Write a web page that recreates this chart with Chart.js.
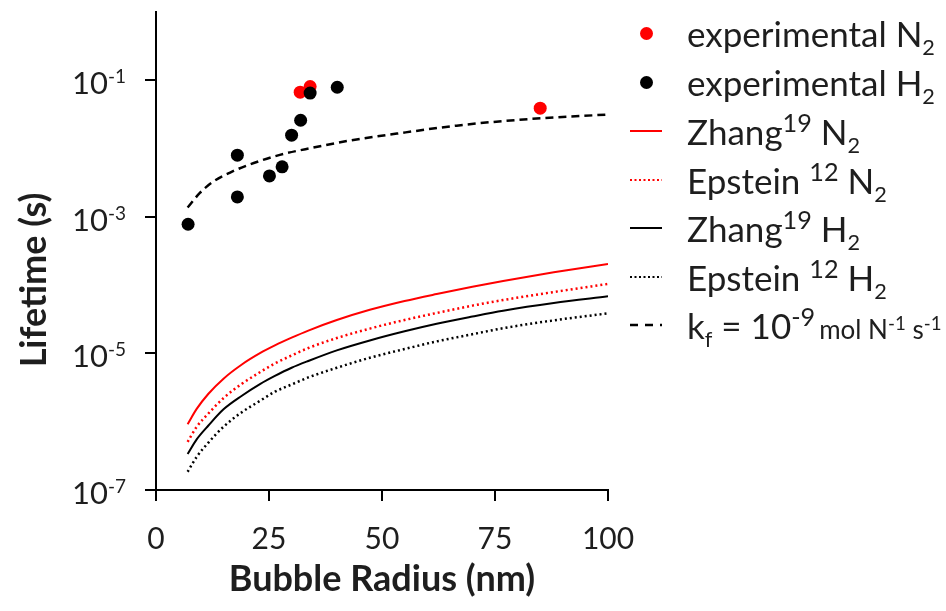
<!DOCTYPE html>
<html>
<head>
<meta charset="utf-8">
<script src="https://cdn.jsdelivr.net/npm/chart.js@4.4.0/dist/chart.umd.min.js"></script>
<style>
  html, body { margin: 0; padding: 0; background: #fff; }
  #wrap { position: relative; width: 946px; height: 611px; }
  #legend { position: absolute; left: 0; top: 0; width: 946px; height: 611px; pointer-events: none;
            font-family: Lato, sans-serif; font-size: 35px; color: #1e1e1e; }
  .row { position: absolute; left: 630px; height: 40px; display: flex; align-items: center; white-space: nowrap; }
  .sym { width: 32px; height: 40px; display: flex; align-items: center; justify-content: center; margin-right: 25px; }
  .dot { width: 13px; height: 13px; border-radius: 50%; }
  sub { font-size: 0.62em; vertical-align: -0.35em; line-height: 0; }
  sup { font-size: 0.72em; vertical-align: 0.53em; line-height: 0; }
  .small { font-size: 26px; margin-left: 4px; }
  .small sup { font-size: 0.72em; vertical-align: 0.5em; }
</style>
</head>
<body>
<div id="wrap">
  <canvas id="lifetimeChart"></canvas>
  <div id="legend">
    <div class="row" style="top:13px"><span class="sym"><span class="dot" style="background:#ff0000"></span></span><span>experimental N<sub>2</sub></span></div>
    <div class="row" style="top:62px"><span class="sym"><span class="dot" style="background:#000"></span></span><span>experimental H<sub>2</sub></span></div>
    <div class="row" style="top:111px"><span class="sym"><svg width="32" height="4"><line x1="0" y1="2" x2="32" y2="2" stroke="#ff0000" stroke-width="2"/></svg></span><span>Zhang<sup>19</sup> N<sub>2</sub></span></div>
    <div class="row" style="top:160px"><span class="sym"><svg width="32" height="4"><line x1="0" y1="2" x2="32" y2="2" stroke="#ff0000" stroke-width="2" stroke-dasharray="2 2.5"/></svg></span><span>Epstein <sup>12</sup> N<sub>2</sub></span></div>
    <div class="row" style="top:208px"><span class="sym"><svg width="32" height="4"><line x1="0" y1="2" x2="32" y2="2" stroke="#000" stroke-width="2"/></svg></span><span>Zhang<sup>19</sup> H<sub>2</sub></span></div>
    <div class="row" style="top:257px"><span class="sym"><svg width="32" height="4"><line x1="0" y1="2" x2="32" y2="2" stroke="#000" stroke-width="2" stroke-dasharray="2 2.5"/></svg></span><span>Epstein <sup>12</sup> H<sub>2</sub></span></div>
    <div class="row" style="top:305px"><span class="sym"><svg width="32" height="4"><line x1="0" y1="2" x2="32" y2="2" stroke="#000" stroke-width="2.5" stroke-dasharray="8 7"/></svg></span><span>k<sub>f</sub> = 10<sup>-9</sup><span class="small">mol N<sup>-1</sup> s<sup>-1</sup></span></span></div>
  </div>
</div>
<script>
// Experimental points (radius in nm, lifetime in s)
const expN2Radius = [31.9, 34.1, 85.0];
const expN2Lifetime = [0.067, 0.081, 0.039];
const expH2Radius = [7.1, 18.0, 18.0, 25.1, 27.9, 30.0, 32.0, 34.1, 40.1];
const expH2Lifetime = [7.8e-4, 8.0e-3, 1.96e-3, 3.97e-3, 5.4e-3, 0.0157, 0.026, 0.065, 0.079];

// Model curves
const modelRadius = [7, 9, 11.6, 15, 19, 23, 26.3, 30, 33.7, 40, 47.3, 55, 62.1, 70, 76.8, 88, 100];
const zhangN2 = [9.20e-7, 1.54e-6, 2.57e-6, 4.31e-6, 6.89e-6, 1.007e-5, 1.31e-5, 1.70e-5, 2.16e-5, 3.08e-5, 4.35e-5, 5.86e-5, 7.41e-5, 9.46e-5, 1.15e-4, 1.54e-4, 2.04e-4];
const epsteinN2 = [5.07e-7, 8.41e-7, 1.32e-6, 2.24e-6, 3.59e-6, 5.31e-6, 7.13e-6, 9.33e-6, 1.20e-5, 1.68e-5, 2.31e-5, 3.09e-5, 3.91e-5, 5.01e-5, 6.05e-5, 7.94e-5, 1.04e-4];
const zhangH2 = [3.36e-7, 5.52e-7, 8.81e-7, 1.53e-6, 2.40e-6, 3.55e-6, 4.68e-6, 6.17e-6, 7.76e-6, 1.11e-5, 1.55e-5, 2.11e-5, 2.72e-5, 3.47e-5, 4.22e-5, 5.47e-5, 6.85e-5];
const epsteinH2 = [1.85e-7, 3.05e-7, 4.95e-7, 8.51e-7, 1.38e-6, 2.02e-6, 2.75e-6, 3.51e-6, 4.45e-6, 6.17e-6, 8.63e-6, 1.16e-5, 1.50e-5, 1.91e-5, 2.34e-5, 3.05e-5, 3.87e-5];

// kf = 1e-9 curve
const kfRadius = [7, 9.7, 12.7, 16.4, 20.1, 27.4, 34.8, 42.2, 53.3, 66.5, 81.3, 100];
const kfLifetime = [1.37e-3, 2.24e-3, 3.30e-3, 4.46e-3, 5.65e-3, 8.09e-3, 1.034e-2, 1.287e-2, 1.656e-2, 2.167e-2, 2.669e-2, 3.155e-2];

// Axes
const xTicks = [0, 25, 50, 75, 100];
const yTickExponents = [-1, -3, -5, -7];
const xTitle = 'Bubble Radius (nm)';
const yTitle = 'Lifetime (s)';

const pts = (xs, ys) => xs.map((x, i) => ({ x: x, y: ys[i] }));
const textColor = '#1e1e1e';

const curve = (label, data, color, dash, order) => ({
  label: label,
  data: data,
  showLine: true,
  borderColor: color,
  borderWidth: dash.length ? 2.5 : 2,
  borderDash: dash,
  pointRadius: 0,
  cubicInterpolationMode: 'monotone',
  order: order
});

// y tick labels with superscript exponents, and the y title
const logTickPlugin = {
  id: 'logTicks',
  afterDraw(chart) {
    const ctx = chart.ctx;
    const y = chart.scales.y;
    ctx.save();
    ctx.fillStyle = textColor;
    ctx.textBaseline = 'alphabetic';
    yTickExponents.forEach(e => {
      const py = y.getPixelForValue(Math.pow(10, e));
      ctx.font = '19px Lato';
      ctx.textAlign = 'left';
      const sup = String(e);
      const supX = 126 - ctx.measureText(sup).width;
      ctx.fillText(sup, supX, py + 3);
      ctx.font = '31px Lato';
      ctx.textAlign = 'right';
      ctx.fillText('10', supX, py + 14);
    });
    ctx.translate(46, 280);
    ctx.rotate(-Math.PI / 2);
    ctx.font = 'bold 36px Lato';
    ctx.textAlign = 'center';
    ctx.fillText(yTitle, 0, 0);
    ctx.restore();
  }
};

const ctx = document.getElementById('lifetimeChart').getContext('2d');
const lifetimeChart = new Chart(ctx, {
  type: 'scatter',
  data: {
    datasets: [
      { label: 'experimental H2', data: pts(expH2Radius, expH2Lifetime), backgroundColor: '#000', borderColor: '#000', pointRadius: 6.5, borderWidth: 0, order: 0 },
      { label: 'experimental N2', data: pts(expN2Radius, expN2Lifetime), backgroundColor: '#ff0000', borderColor: '#ff0000', pointRadius: 6.5, borderWidth: 0, order: 1 },
      curve('kf', pts(kfRadius, kfLifetime), '#000', [8, 5], 2),
      curve('Zhang N2', pts(modelRadius, zhangN2), '#ff0000', [], 3),
      curve('Epstein N2', pts(modelRadius, epsteinN2), '#ff0000', [2, 3], 3),
      curve('Zhang H2', pts(modelRadius, zhangH2), '#000', [], 3),
      curve('Epstein H2', pts(modelRadius, epsteinH2), '#000', [2, 3], 3)
    ]
  },
  options: {
    responsive: true,
    maintainAspectRatio: false,
    animation: false,
    layout: { padding: { top: 12, right: 338, left: 0, bottom: 0 } },
    plugins: { legend: { display: false }, tooltip: { enabled: false } },
    scales: {
      x: {
        type: 'linear',
        min: 0,
        max: 100,
        afterBuildTicks: s => { s.ticks = xTicks.map(v => ({ value: v })); },
        afterFit: s => { s.height = 121; },
        ticks: { color: textColor, font: { family: 'Lato', size: 30 }, padding: 20, maxRotation: 0 },
        grid: { drawOnChartArea: false, color: '#000', lineWidth: 2, tickLength: 11 },
        border: { color: '#000', width: 2 },
        title: { display: true, text: xTitle, color: textColor, font: { family: 'Lato', size: 36, weight: 'bold' }, padding: { top: 0, bottom: 10 } }
      },
      y: {
        type: 'logarithmic',
        min: 1e-7,
        max: 1,
        afterBuildTicks: s => { s.ticks = yTickExponents.map(e => ({ value: Math.pow(10, e) })); },
        afterFit: s => { s.width = 156; },
        ticks: { display: false },
        grid: { drawOnChartArea: false, color: '#000', lineWidth: 2, tickLength: 11 },
        border: { color: '#000', width: 2 }
      }
    }
  },
  plugins: [logTickPlugin]
});
</script>
</body>
</html>
